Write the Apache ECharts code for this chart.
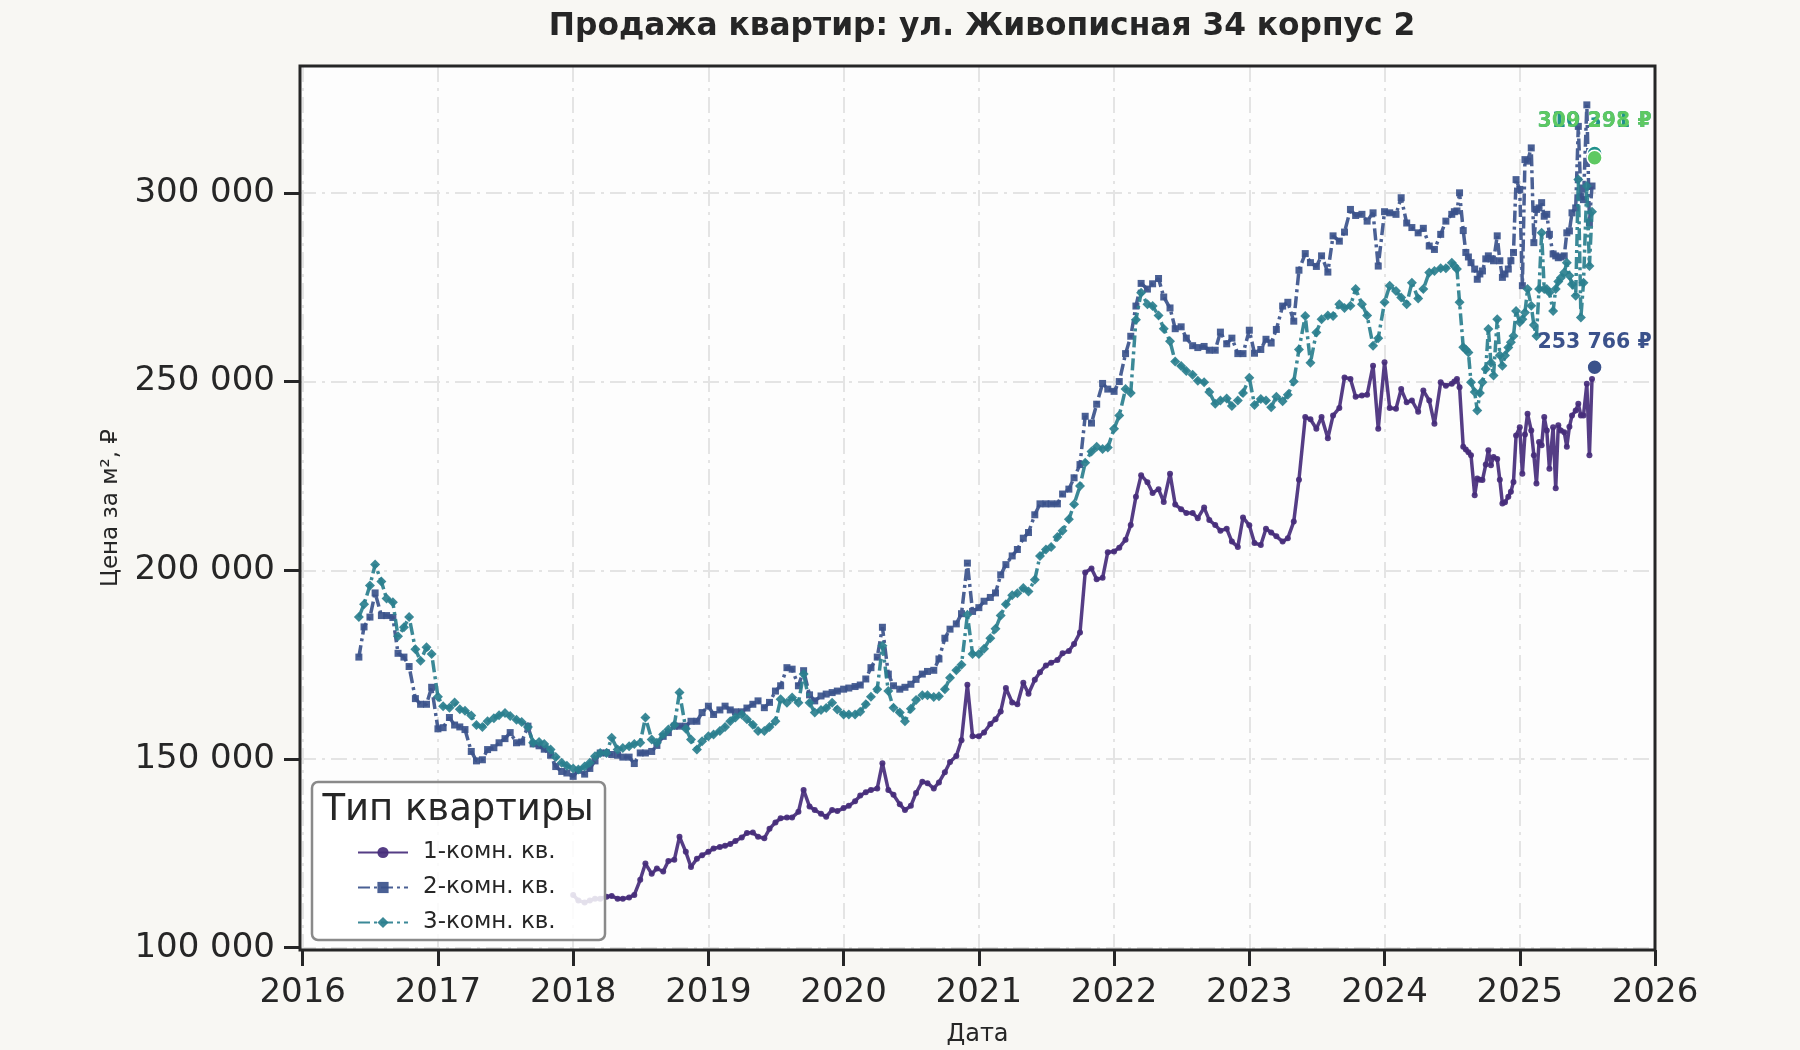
<!DOCTYPE html>
<html lang="ru">
<head>
    <meta charset="UTF-8">
    <title>Продажа квартир</title>
    <script src="https://cdn.jsdelivr.net/npm/echarts@6.0.0/dist/echarts.min.js"></script>
    <style>
        html, body { margin: 0; padding: 0; background: #f8f7f3; }
        #chart { width: 1800px; height: 1050px; }
    </style>
</head>
<body>
<div id="chart"></div>
<script type="text/javascript">
    // даты: 1-е и 15-е число с июня 2016 по июнь 2024, дальше 1, 8, 15, 22 число
    var dates = [];
    function pad(n) { return n < 10 ? '0' + n : '' + n; }
    for (var y = 2016; y <= 2024; y++) {
        for (var m = 1; m <= 12; m++) {
            if (y === 2016 && m < 6) continue;
            if (y === 2024 && m > 6) break;
            dates.push(y + '-' + pad(m) + '-01', y + '-' + pad(m) + '-15');
        }
    }
    for (var y = 2024; y <= 2025; y++) {
        for (var m = 1; m <= 12; m++) {
            if (y === 2024 && m < 7) continue;
            if (y === 2025 && m > 7) break;
            var days = (y === 2025 && m === 7) ? [1, 8, 15] : [1, 8, 15, 22];
            for (var k = 0; k < days.length; k++) dates.push(y + '-' + pad(m) + '-' + pad(days[k]));
        }
    }

    var seriesNames = ['1-комн. кв.', '2-комн. кв.', '3-комн. кв.'];

    // цена за м², тыс. руб.
    var room1Start = '2018-01-01';
    var room1 = [
        // 2018
        114, 112.5, 112, 112.5, 113, 113, 113.5, 113.7, 113, 113, 113.3, 114,
        118, 122.3, 119.6, 121, 120.2, 123, 123.3, 129.4, 125.4, 121.4, 123.6, 124.5,
        // 2019
        125.4, 126.3, 126.7, 127, 127.5, 128.3, 129.2, 130.4, 130.5, 129.4, 129, 131.5,
        133.2, 134.3, 134.5, 134.5, 136, 141.8, 137.4, 136.5, 135.5, 134.7, 136.5, 136.2,
        // 2020
        137, 137.6, 138.8, 140.3, 141.2, 141.8, 142.2, 148.9, 141.8, 140.5, 138, 136.5,
        137.6, 141, 144, 143.6, 142.2, 143.8, 146.5, 149.2, 150.8, 155, 169.7, 156,
        // 2021
        156, 157, 159.3, 160.5, 162.6, 168.8, 165, 164.5, 170.2, 167.3, 171, 173,
        174.8, 175.5, 176.2, 178, 178.6, 180.5, 183.5, 199.4, 200.5, 197.6, 198, 204.8,
        // 2022
        205, 206, 208.1, 212, 219.5, 225.2, 223.3, 220.5, 221.5, 218.1, 225.6, 217.4,
        216.2, 215.2, 215.2, 213.8, 216.6, 213.3, 212, 210.5, 211, 207.6, 206.2, 214,
        // 2023
        211.9, 207.2, 206.7, 211, 210, 209, 207.6, 208.5, 212.9, 224, 240.6, 240,
        237.5, 240.6, 235, 241, 243, 251.1, 250.7, 246, 246.3, 246.5, 254.2, 237.5,
        // 2024 янв-июн
        255.1, 243, 242.8, 248, 244.5, 245, 242, 247.6, 245, 238.8, 249.8, 248.9,
        // 2024 июл - 2025 июл, по неделям
        249.4, 250, 250.7, 248.5,
        232.7, 232, 231.3, 230.5,
        219.9, 224.3, 224, 223.9,
        228, 231.8, 227.8, 230,
        229.5, 224, 217.7, 218,
        219.5, 220.8, 223.4, 235.7,
        237.9, 225.6, 236, 241.5,
        237, 230.5, 223, 234,
        233.1, 240.6, 237, 226.9,
        237.9, 221.7, 238.4, 237,
        236.6, 232.7, 238, 241,
        242.3, 244.1, 241, 241,
        249.4, 230.5, 250.7
    ];

    var room2 = [
        // 2016
        177, 185, 187.6, 194, 188, 188, 187.5, 178, 177, 174.5, 166, 164.5, 164.5, 169,
        // 2017
        158, 158.3, 161, 159, 158.5, 157.8, 152, 149.5, 149.8, 152.5, 153, 154.3,
        155.4, 157, 154.3, 154.5, 158.7, 154, 153.5, 152.6, 151, 148, 146.7, 146.3,
        // 2018
        145.4, 147, 146, 147.5, 149.5, 151.6, 151.6, 151.2, 151, 150.5, 150.5, 148.8,
        151.6, 151.6, 152, 153.6, 156, 157, 158.7, 158.7, 158.7, 160, 160, 162.3,
        // 2019
        164, 161.8, 163, 164, 163, 162.5, 162.5, 163.5, 164.5, 165.4, 163.6, 165,
        168, 169.4, 174.2, 173.8, 169.4, 173.4, 167, 165.4, 166.7, 167.2, 167.6, 168,
        // 2020
        168.5, 168.8, 169.2, 169.6, 171.2, 174.2, 177, 184.9, 172.5, 169.4, 168.5, 169,
        169.8, 171.1, 172.5, 173.2, 173.5, 176.5, 182, 184.4, 185.8, 188.5, 201.9, 189.1,
        // 2021
        190.1, 191.8, 192.8, 194, 198.8, 201.5, 203.8, 205.5, 208.5, 210, 214.7, 217.6,
        217.6, 217.6, 217.6, 220.2, 221.5, 224.5, 228, 240.8, 239, 244, 249.5, 248,
        // 2022
        247.4, 250, 257.4, 262, 270, 276, 274.5, 275.9, 277.3, 272.4, 269.5, 264,
        264.5, 261.5, 259.5, 259, 259.3, 258.3, 258.3, 263.1, 260, 261.5, 257.4, 257.4,
        // 2023
        263.6, 257.5, 258.5, 261.2, 260.2, 263.8, 270, 271, 266, 279.5, 283.9, 281.5,
        280.5, 283.3, 279, 288.6, 287.2, 289.6, 295.6, 294, 294.3, 292.5, 294.7, 280.6,
        // 2024 янв-июн
        295, 294.7, 294.3, 298.7, 292, 290.8, 289.4, 290.6, 285.9, 285, 289, 292.5,
        // 2024 июл - 2025 июл, по неделям
        294.3, 295, 295.2, 300,
        290, 284.2, 283, 281.5,
        279.8, 277.1, 278.5, 279.3,
        282.5, 283.3, 282.5, 282,
        288.6, 282, 277.6, 278.5,
        279.8, 282, 284.2, 303.5,
        300.9, 275.4, 308.8, 308.4,
        311.9, 286.8, 295.6, 296,
        297.4, 293.8, 294.3, 289,
        283.8, 283.3, 282.8, 283,
        283.3, 289.4, 289.9, 294.7,
        296, 317.6, 299, 298.2,
        323.3, 292.1, 301.8
    ];

    var room3 = [
        // 2016
        187.6, 191, 196, 201.5, 197, 192.5, 191.5, 182.5, 184.9, 187.6, 179.1, 176, 179.6, 177.8,
        // 2017
        166.5, 164, 163.6, 165, 163.2, 162.8, 161.5, 159, 158.5, 160, 160.8, 161.6,
        162.2, 161.4, 160.4, 159.8, 158.5, 154.3, 154.5, 154, 152.5, 150.5, 149, 148.2,
        // 2018
        147.5, 147.2, 148, 149, 150.7, 151.6, 151.6, 155.6, 152.5, 152.9, 153.4, 154,
        154.3, 161, 155.2, 154.3, 156.5, 157.8, 159, 167.6, 158, 155.2, 152.5, 154.7,
        // 2019
        156, 156.5, 157.4, 158.5, 160, 161, 161.8, 160.5, 159.1, 157.4, 157.4, 158.5,
        160, 165.8, 164.9, 166.3, 164.9, 172.5, 164.9, 162.3, 163, 163.5, 164.9, 163.1,
        // 2020
        161.8, 161.8, 161.8, 162.5, 164.5, 166.5, 168.5, 180, 168, 163.6, 162.3, 160,
        163.3, 165.6, 166.9, 166.9, 166.4, 166.6, 168.5, 171.5, 173.5, 175, 188.2, 177.8,
        // 2021
        177.8, 179.2, 182, 184.5, 188, 191, 193.4, 193.9, 195.3, 194.4, 197.5, 203.8,
        205.5, 206.2, 208.8, 210.5, 213.5, 217.5, 222.3, 228.5, 231.5, 232.7, 232.1, 232.5,
        // 2022
        237.5, 241, 248, 247, 266.4, 273.5, 270.5, 270, 267.5, 264, 260.7, 255.3,
        254.1, 252.8, 251.8, 250.2, 249.8, 247.2, 244.1, 245, 245.5, 243.5, 245, 247,
        // 2023
        251, 243.8, 245.4, 245, 243.2, 246, 244.8, 246.5, 250, 258.5, 267.4, 255,
        263, 266.5, 267.5, 267.4, 270.5, 269.5, 270.1, 274.5, 270.5, 267.5, 259.5, 261.5,
        // 2024 янв-июн
        271, 275.4, 274, 272.3, 270.5, 276.2, 272, 274.5, 278.9, 279.3, 280, 280,
        // 2024 июл - 2025 июл, по неделям
        281.5, 280.6, 279.8, 271,
        259.1, 258.5, 257.7, 249.8,
        247.2, 242.3, 247, 249.8,
        253.3, 263.9, 255, 251.6,
        266.5, 257, 254.2, 256.9,
        259, 260.4, 262.1, 268.7,
        265.7, 266.5, 268.3, 274.5,
        270.1, 265, 262.1, 274.5,
        289.4, 274.5, 274.5, 273.6,
        268.7, 274.5, 276.5, 277.5,
        278.9, 281.5, 278, 275.8,
        272.7, 303.5, 267, 276.2,
        301.8, 280.6, 295
    ];

    // последние значения (подписи), руб.
    var lastDate = '2025-07-22';
    var lastValues = [253766, 310391, 309298];

    var yTicks = [100, 150, 200, 250, 300];
    var xTicks = [2016, 2017, 2018, 2019, 2020, 2021, 2022, 2023, 2024, 2025, 2026];

    var lineColors = ['#472d7b', '#3b528b', '#2a7f8e'];
    var markColors = ['#3b528b', '#21918c', '#5ec962'];
    var FONT = 'DejaVu Sans';
    var INK = '#262626';

    var room1Offset = dates.indexOf(room1Start);
    if (room1.length + room1Offset !== dates.length || room2.length !== dates.length || room3.length !== dates.length) {
        throw new Error('lengths: dates ' + dates.length + ' r1 ' + (room1.length + room1Offset) +
            ' r2 ' + room2.length + ' r3 ' + room3.length);
    }

    function toYear(s) {
        var p = s.split('-');
        var yr = +p[0];
        var t = Date.UTC(yr, +p[1] - 1, +p[2]);
        var t0 = Date.UTC(yr, 0, 1), t1 = Date.UTC(yr + 1, 0, 1);
        return yr + (t - t0) / (t1 - t0);
    }
    function fmtNum(n) {
        return String(Math.round(n)).replace(/\B(?=(\d{3})+(?!\d))/g, ' ');
    }
    function pairs(vals, offset) {
        var out = [];
        for (var i = 0; i < vals.length; i++) out.push([toYear(dates[i + offset]), vals[i]]);
        return out;
    }

    var myChart = echarts.init(document.getElementById('chart'));

    var lineSeries = [
        { data: pairs(room1, room1Offset), symbol: 'circle', symbolSize: 6, dash: 'solid' },
        { data: pairs(room2, 0), symbol: 'rect', symbolSize: 7, dash: [12, 4, 3, 4] },
        { data: pairs(room3, 0), symbol: 'diamond', symbolSize: 10, dash: [12, 4, 3, 4] }
    ].map(function (s, i) {
        return {
            name: seriesNames[i],
            type: 'line',
            data: s.data,
            symbol: s.symbol,
            symbolSize: s.symbolSize,
            showSymbol: true,
            showAllSymbol: true,
            lineStyle: { color: lineColors[i], width: 3.5, type: s.dash, opacity: 0.92 },
            itemStyle: { color: lineColors[i], opacity: 0.92 },
            emphasis: { disabled: true },
            z: 2 + i
        };
    });

    var labelGaps = [6, 12.8, 17];
    var drawOrder = [1, 2, 0];
    var markSeries = drawOrder.map(function (i, n) {
        return {
            name: 'last-' + i,
            type: 'scatter',
            data: [[toYear(lastDate), lastValues[i] / 1000]],
            symbolSize: 15,
            itemStyle: { color: markColors[i], borderColor: '#ffffff', borderWidth: 1.5, opacity: 1 },
            label: {
                show: true,
                position: 'top',
                distance: labelGaps[i],
                formatter: fmtNum(lastValues[i]) + ' ₽',
                color: markColors[i],
                fontFamily: FONT,
                fontWeight: 'bold',
                fontSize: 20.5
            },
            emphasis: { disabled: true },
            z: 10 + n
        };
    });

    var gridLine = { show: true, lineStyle: { color: '#e4e4e4', width: 2, type: [16, 6, 3, 6] } };

    var option = {
        animation: false,
        backgroundColor: '#f8f7f3',
        title: {
            text: 'Продажа квартир: ул. Живописная 34 корпус 2',
            left: 977,
            top: 6,
            textAlign: 'center',
            textStyle: { fontFamily: FONT, fontWeight: 'bold', fontSize: 31.3, color: INK }
        },
        grid: {
            left: 300, right: 145, top: 66, bottom: 100,
            outerBoundsMode: 'none',
            containLabel: false,
            show: true,
            backgroundColor: '#fdfdfd',
            borderWidth: 0
        },
        legend: {
            data: seriesNames,
            orient: 'vertical',
            left: 357,
            top: 841,
            padding: 0,
            itemWidth: 50,
            itemHeight: 14,
            itemGap: 12,
            z: 110,
            textStyle: { fontFamily: FONT, fontSize: 23, color: INK, lineHeight: 22, padding: [0, 0, 0, 10] }
        },
        graphic: [
            {
                // рамка области построения поверх сетки
                type: 'rect',
                z: 90,
                silent: true,
                shape: { x: 300, y: 66, width: 1355, height: 884 },
                style: { fill: null, stroke: INK, lineWidth: 3 }
            },
            {
                type: 'rect',
                z: 100,
                shape: { x: 312, y: 782, width: 293, height: 158, r: 6 },
                style: { fill: 'rgba(255,255,255,0.85)', stroke: '#8a8a8a', lineWidth: 2.5 }
            },
            {
                type: 'text',
                z: 101,
                x: 458, y: 810,
                style: {
                    text: 'Тип квартиры',
                    fill: INK,
                    font: '37px "DejaVu Sans"',
                    textAlign: 'center',
                    textVerticalAlign: 'middle'
                }
            }
        ],
        xAxis: {
            type: 'value',
            min: 2015.98,
            max: 2026,
            name: 'Дата',
            nameLocation: 'middle',
            nameGap: 73,
            nameTextStyle: { fontFamily: FONT, fontSize: 24, color: INK },
            axisLine: { show: false },
            axisTick: { show: true, length: 16, customValues: xTicks, lineStyle: { color: INK, width: 3 } },
            axisLabel: {
                customValues: xTicks,
                margin: 26,
                fontFamily: FONT, fontSize: 34, color: INK,
                formatter: function (v) { return String(Math.round(v)); }
            },
            splitLine: gridLine
        },
        yAxis: {
            type: 'value',
            min: 99.4,
            max: 333.6,
            name: 'Цена за м², ₽',
            nameLocation: 'middle',
            nameGap: 177,
            nameRotate: 90,
            nameTextStyle: { fontFamily: FONT, fontSize: 23, color: INK },
            axisLine: { show: false },
            axisTick: { show: true, length: 16, customValues: yTicks, lineStyle: { color: INK, width: 3 } },
            axisLabel: {
                customValues: yTicks,
                margin: 25,
                fontFamily: FONT, fontSize: 34, color: INK,
                formatter: function (v) { return fmtNum(v * 1000); }
            },
            splitLine: gridLine
        },
        series: lineSeries.concat(markSeries)
    };

    myChart.setOption(option);
</script>
</body>
</html>
